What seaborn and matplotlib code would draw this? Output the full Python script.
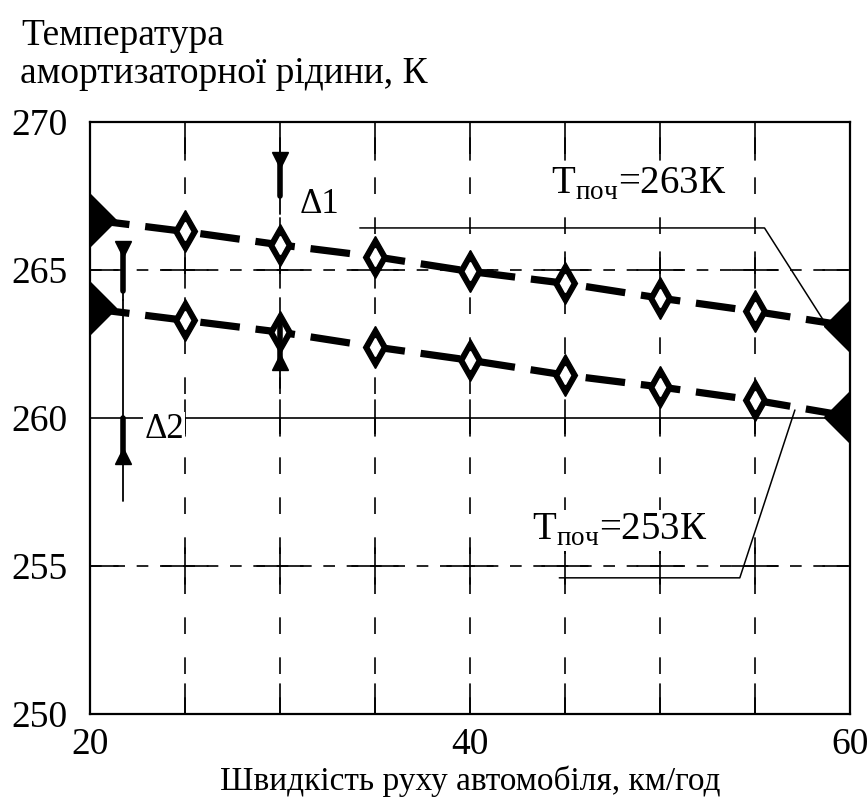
import matplotlib
matplotlib.use("Agg")
import matplotlib.pyplot as plt
import seaborn as sns
import numpy as np

# дані
speed = [20, 25, 30, 35, 40, 45, 50, 55, 60]
t_263 = [266.7, 266.3, 265.85, 265.45, 264.95, 264.55, 264.05, 263.6, 263.1]
t_253 = [263.7, 263.3, 262.9, 262.4, 261.95, 261.45, 261.05, 260.6, 260.05]

x_ticks = [20, 40, 60]
y_ticks = [250, 255, 260, 265, 270]
v_grid = [25, 30, 35, 40, 45, 50, 55]
h_dashed = [255, 265]
h_solid = [260]

sns.set_style("white")
plt.rcParams["font.family"] = ["Liberation Serif", "DejaVu Serif"]
plt.rcParams["mathtext.fontset"] = "custom"
plt.rcParams["mathtext.rm"] = "Liberation Serif"
plt.rcParams["text.color"] = "black"

fig = plt.figure(figsize=(8.67, 8.11), dpi=100)
ax = fig.add_axes([0.1038, 0.1196, 0.8766, 0.73])
ax.set_xlim(20, 60)
ax.set_ylim(250, 270)

# сітка
for xv in v_grid:
    ax.plot([xv, xv], [250, 270], color="black", lw=1.2, linestyle=(0, (10, 14)), zorder=1)
    ax.plot([xv, xv], [268.7, 270], color="black", lw=1.2, zorder=1)
    ax.plot([xv, xv], [250, 251.0], color="black", lw=1.2, zorder=1)
    for yv in h_dashed + h_solid:
        ax.plot([xv, xv], [yv - 0.6, yv + 0.6], color="black", lw=1.2, zorder=1)
for yv in h_dashed:
    ax.plot([20, 60], [yv, yv], color="black", lw=1.2, linestyle=(0, (7, 7)), zorder=1)
    ax.plot([20, 21.5], [yv, yv], color="black", lw=1.2, zorder=1)
    ax.plot([58.6, 60], [yv, yv], color="black", lw=1.2, zorder=1)
    for xv in v_grid:
        ax.plot([xv - 1.2, xv + 1.2], [yv, yv], color="black", lw=1.2, zorder=1)
for yv in h_solid:
    ax.plot([20, 60], [yv, yv], color="black", lw=1.2, zorder=1)

# криві
for t in [t_263, t_253]:
    sns.lineplot(x=speed, y=t, ax=ax, color="black", lw=5.2, linestyle=(0, (5.5, 2.2)), zorder=3)
    ax.plot(speed[1:-1], t[1:-1], "d", ms=21, color="black", zorder=4)
    ax.plot(speed[1:-1], t[1:-1], "d", ms=9, color="white", zorder=4)
    ax.plot([speed[0], speed[-1]], [t[0], t[-1]], "D", ms=26, color="black", zorder=4)

# стрілки Δ1, Δ2
def arrow_mark(x, y_far, y_thick, y_end, mk):
    ax.plot([x, x], [y_far, y_end], color="black", lw=1.3, zorder=5)
    ax.plot([x, x], [y_far, y_thick], color="black", lw=4, zorder=5)
    ax.plot(x, y_far, marker=mk, ms=11, color="black", zorder=5)

arrow_mark(30, 268.7, 267.5, 266.9, "v")
arrow_mark(30, 261.9, 263.2, 261.0, "^")
arrow_mark(21.75, 265.7, 264.3, 264.0, "v")
ax.plot([21.75, 21.75], [264.0, 260.0], color="black", lw=1.3, zorder=5)
arrow_mark(21.75, 258.7, 260.0, 257.2, "^")

ax.text(32.1, 267.2, "Δ1", fontsize=25, ha="center", va="center", zorder=6)
ax.text(23.9, 259.6, "Δ2", fontsize=25, ha="center", va="center", zorder=6,
        bbox=dict(facecolor="white", edgecolor="none", pad=1))

# виноски
ax.plot([34.2, 55.5, 58.6], [266.42, 266.42, 263.3], color="black", lw=1.1, zorder=5)
ax.plot([44.7, 54.2, 57.1], [254.6, 254.6, 260.27], color="black", lw=1.1, zorder=5)
ax.text(48.9, 267.9, r"$\mathrm{Т}_{\mathrm{поч}}$=263К", fontsize=28, ha="center", va="center",
        zorder=6, bbox=dict(facecolor="white", edgecolor="none", pad=1))
ax.text(47.9, 256.2, r"$\mathrm{Т}_{\mathrm{поч}}$=253К", fontsize=28, ha="center", va="center",
        zorder=6, bbox=dict(facecolor="white", edgecolor="none", pad=1))

# осі
ax.set_xticks(x_ticks)
ax.set_yticks(y_ticks)
ax.tick_params(length=0, labelsize=27, labelcolor="black")
ax.tick_params(axis="x", pad=10)
ax.tick_params(axis="y", pad=16)
for s in ax.spines.values():
    s.set_color("black")
    s.set_linewidth(1.6)
    s.set_visible(True)

fig.text(0.025, 0.9445, "Температура", fontsize=27, ha="left", va="baseline")
fig.text(0.023, 0.8977, "амортизаторної рідини, К", fontsize=27, ha="left", va="baseline")
fig.text(0.542, 0.026, "Швидкість руху автомобіля, км/год", fontsize=24, ha="center", va="baseline")

plt.savefig("out.png", dpi=100)
